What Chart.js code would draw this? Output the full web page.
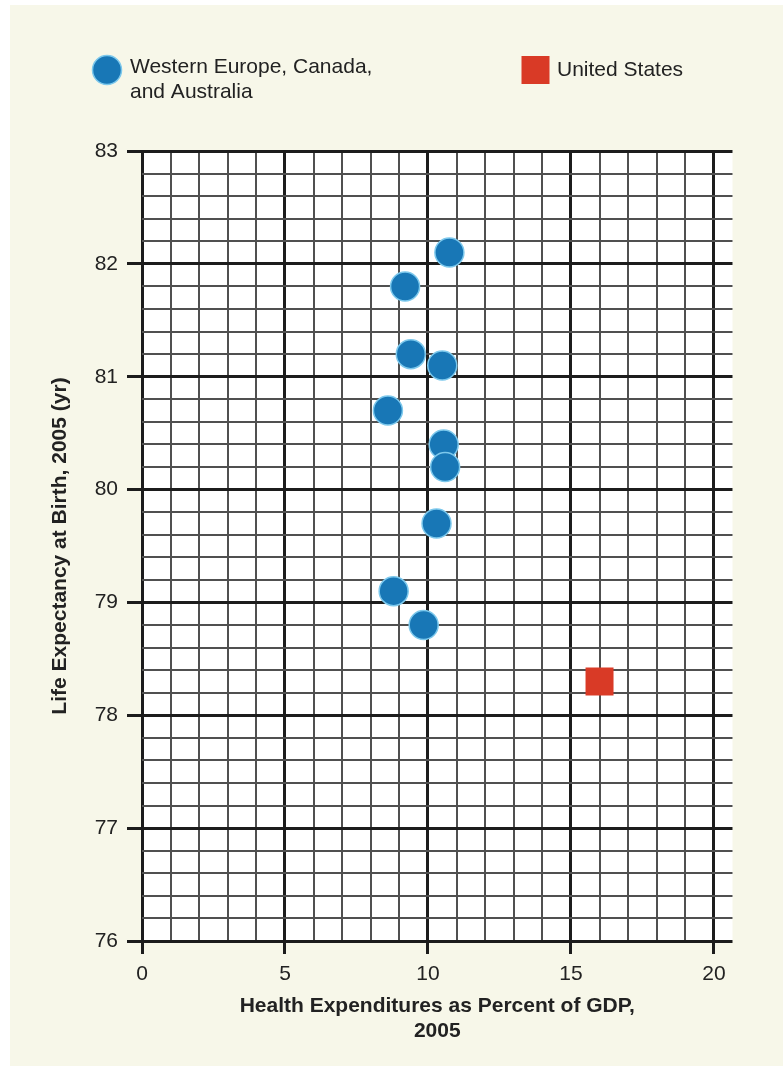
<!DOCTYPE html>
<html>
<head>
<meta charset="utf-8">
<script src="https://cdn.jsdelivr.net/npm/chart.js@4.4.1/dist/chart.umd.min.js"></script>
<style>
  html, body { margin: 0; padding: 0; background: #ffffff; }
  #wrap { position: absolute; left: 0; top: 0; width: 783px; height: 1066px; }
</style>
</head>
<body>
<div id="wrap"><canvas id="c" width="783" height="1066"></canvas></div>
<script>
// ---- Data ----
const westLabel = ["Western Europe, Canada,", "and Australia"];
const usLabel = "United States";
const westX = [10.75, 9.2, 9.4, 10.5, 8.6, 10.55, 10.6, 10.3, 8.8, 9.85];
const westY = [82.1, 81.8, 81.2, 81.1, 80.7, 80.4, 80.2, 79.7, 79.1, 78.8];
const usX = [16.0];
const usY = [78.3];
const xTickLabels = [0, 5, 10, 15, 20];
const yTickLabels = [76, 77, 78, 79, 80, 81, 82, 83];
const xMinorStep = 1;
const yMinorStep = 0.2;
const xTitle = ["Health Expenditures as Percent of GDP,", "2005"];
const yTitle = "Life Expectancy at Birth, 2005 (yr)";

const FONT = "'Liberation Sans', Arial, Helvetica, sans-serif";
const BLUE = '#1877b6';
const BLUE_BORDER = '#7cc8ec';
const RED = '#d93a26';
const CREAM = '#f7f7e9';
const MAJOR = '#1c1c1c';
const MINOR = '#505050';

function buildTicks(labels, step) {
  const lo = labels[0], hi = labels[labels.length - 1];
  const n = Math.round((hi - lo) / step);
  const t = [];
  for (let i = 0; i <= n; i++) t.push({ value: +(lo + i * step).toFixed(4) });
  return t;
}
const isMajor = (v, labels) => labels.some(l => Math.abs(l - v) < 1e-6);

const backgroundPlugin = {
  id: 'bg',
  beforeDraw(chart) {
    const ctx = chart.ctx;
    ctx.save();
    ctx.fillStyle = '#ffffff';
    ctx.fillRect(0, 0, chart.width, chart.height);
    ctx.fillStyle = CREAM;
    ctx.fillRect(10, 5, chart.width - 10, chart.height - 5);
    const a = chart.chartArea;
    ctx.fillStyle = '#ffffff';
    ctx.fillRect(a.left, a.top, a.right - a.left, a.bottom - a.top);
    ctx.restore();
  }
};

const legendPlugin = {
  id: 'customLegend',
  afterDraw(chart) {
    const ctx = chart.ctx;
    ctx.save();
    ctx.beginPath();
    ctx.arc(107, 70, 14.5, 0, Math.PI * 2);
    ctx.fillStyle = BLUE;
    ctx.fill();
    ctx.lineWidth = 1.5;
    ctx.strokeStyle = BLUE_BORDER;
    ctx.stroke();
    ctx.fillStyle = '#222222';
    ctx.font = "21px " + FONT;
    ctx.textBaseline = 'middle';
    ctx.textAlign = 'left';
    ctx.fillText(westLabel[0], 130, 67);
    ctx.fillText(westLabel[1], 130, 92);
    ctx.fillStyle = RED;
    ctx.fillRect(521.5, 56, 28, 28);
    ctx.fillStyle = '#222222';
    ctx.fillText(usLabel, 557, 70);
    ctx.restore();
  }
};

new Chart(document.getElementById('c'), {
  type: 'scatter',
  data: {
    datasets: [
      {
        label: westLabel.join(' '),
        data: westX.map((x, i) => ({ x, y: westY[i] })),
        backgroundColor: BLUE,
        borderColor: BLUE_BORDER,
        borderWidth: 1.5,
        pointRadius: 14.5,
        pointHoverRadius: 14.5,
        pointStyle: 'circle'
      },
      {
        label: usLabel,
        data: usX.map((x, i) => ({ x, y: usY[i] })),
        backgroundColor: RED,
        borderColor: RED,
        borderWidth: 0,
        pointRadius: 19.8,
        pointHoverRadius: 19.8,
        pointStyle: 'rect'
      }
    ]
  },
  options: {
    responsive: false,
    animation: false,
    devicePixelRatio: 1,
    layout: { padding: { left: 0, top: 151, right: 50.5, bottom: 0 } },
    plugins: { legend: { display: false }, tooltip: { enabled: false } },
    scales: {
      x: {
        type: 'linear',
        min: 0,
        max: 20.65,
        afterBuildTicks: s => { s.ticks = buildTicks(xTickLabels, xMinorStep); },
        afterFit: s => { s.height = 125; },
        border: { display: false },
        grid: {
          drawTicks: true,
          tickLength: 13,
          color: c => isMajor(c.tick.value, xTickLabels) ? MAJOR : MINOR,
          lineWidth: c => isMajor(c.tick.value, xTickLabels) ? 3 : 2,
          tickColor: c => isMajor(c.tick.value, xTickLabels) ? MAJOR : 'rgba(0,0,0,0)',
          tickWidth: c => isMajor(c.tick.value, xTickLabels) ? 3 : 0
        },
        ticks: {
          autoSkip: false,
          maxRotation: 0,
          padding: 8,
          color: '#222222',
          font: { family: FONT, size: 21 },
          callback: v => isMajor(v, xTickLabels) ? String(Math.round(v)) : ''
        },
        title: {
          display: true,
          text: xTitle,
          color: '#222222',
          font: { family: FONT, size: 21, weight: 'bold', lineHeight: 1.2 },
          padding: { top: 0, bottom: 22 }
        }
      },
      y: {
        type: 'linear',
        min: 76,
        max: 83,
        afterBuildTicks: s => { s.ticks = buildTicks(yTickLabels, yMinorStep); },
        afterFit: s => { s.width = 142; },
        border: { display: false },
        grid: {
          drawTicks: true,
          tickLength: 15,
          color: c => isMajor(c.tick.value, yTickLabels) ? MAJOR : MINOR,
          lineWidth: c => isMajor(c.tick.value, yTickLabels) ? 3 : 2,
          tickColor: c => isMajor(c.tick.value, yTickLabels) ? MAJOR : 'rgba(0,0,0,0)',
          tickWidth: c => isMajor(c.tick.value, yTickLabels) ? 3 : 0
        },
        ticks: {
          autoSkip: false,
          padding: 9,
          color: '#222222',
          font: { family: FONT, size: 21 },
          callback: v => isMajor(v, yTickLabels) ? String(Math.round(v)) : ''
        },
        title: {
          display: true,
          text: yTitle,
          color: '#222222',
          font: { family: FONT, size: 21, weight: 'bold' },
          padding: { top: 48, bottom: 0 }
        }
      }
    }
  },
  plugins: [backgroundPlugin, legendPlugin]
});
</script>
</body>
</html>
